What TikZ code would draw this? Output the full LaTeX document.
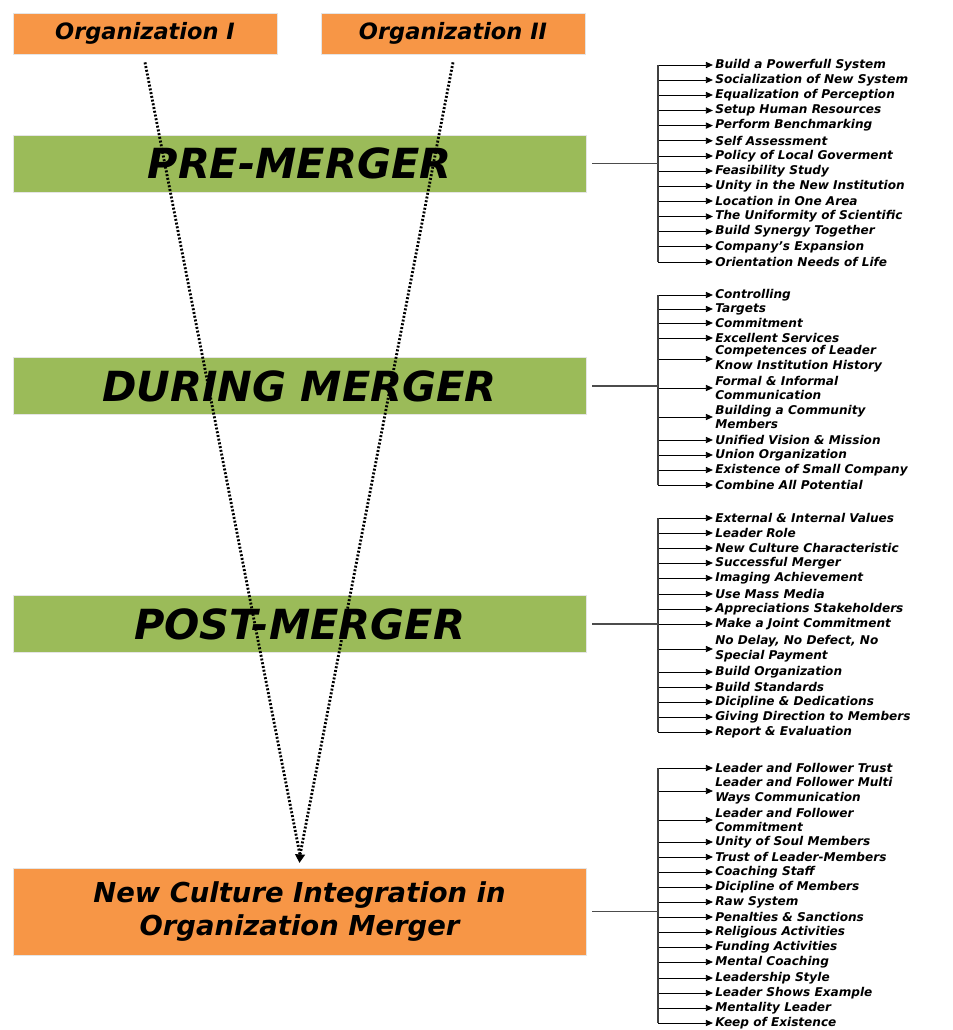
\documentclass[tikz,border=0pt]{standalone}
\usepackage{fontspec}
\setmainfont{DejaVu Sans}
\definecolor{orgorange}{HTML}{F79646}
\definecolor{phasegreen}{HTML}{9BBB59}
\usetikzlibrary{arrows.meta, positioning}

\begin{document}
\begin{tikzpicture}[
  x=0.025cm, y=-0.025cm,
  orgbox/.style={rectangle, fill=orgorange, draw=gray!20, line width=0.5pt,
    minimum width=6.6cm, minimum height=1.025cm, inner sep=0pt,
    font=\fontsize{16}{19}\selectfont\bfseries\itshape},
  phase/.style={rectangle, fill=phasegreen, draw=gray!20, line width=0.5pt,
    minimum width=14.325cm, minimum height=1.425cm, inner sep=0pt,
    font=\fontsize{29.5}{34}\selectfont\bfseries\itshape},
  result/.style={rectangle, fill=orgorange, draw=gray!20, line width=0.5pt,
    minimum width=14.325cm, minimum height=2.175cm, inner sep=0pt, align=center,
    font=\fontsize{19.5}{23.5}\selectfont\bfseries\itshape},
  item/.style={anchor=west, inner sep=0pt, align=left,
    font=\fontsize{8.6}{10.6}\selectfont\bfseries\itshape},
  itemarr/.style={-{Triangle[length=5pt, width=4.4pt]}, line width=0.6pt, shorten >=1.5pt},
  bar/.style={line width=0.9pt, color=black!75},
  link/.style={line width=0.9pt, color=black!70, shorten <=0.15cm},
  dots/.style={line width=2pt, dash pattern=on 1.4pt off 1.3pt}
]
  \useasboundingbox (0,0) rectangle (952,1030);

  % organizations and phases
  \node[orgbox] (org1) at (145,33.5) {Organization I};
  \node[orgbox] (org2) at (453,33.5) {Organization II};
  \node[phase] (pre) at (299.5,163.5) {PRE-MERGER};
  \node[phase] (during) at (299.5,386) {DURING MERGER};
  \node[phase] (post) at (299.5,624) {POST-MERGER};
  \node[result] (new) at (299.5,911.5)
    {New Culture Integration in\\Organization Merger};

  % merging paths
  \coordinate (meet) at (300,855);
  \draw[dots] ([yshift=-0.2cm]org1.south) -- (meet);
  \draw[dots] ([yshift=-0.2cm]org2.south) -- (meet);
  \draw[-{Triangle[length=6pt, width=7pt]}, line width=1pt] (meet) -- ([yshift=0.12cm]new.north);

  % pre-merger factors
  \coordinate (prebar) at (658,65);
  \foreach \y/\txt [count=\i] in {65/Build a Powerfull System,
      80/Socialization of New System, 95/Equalization of Perception,
      110.5/Setup Human Resources, 125.6/Perform Benchmarking,
      140.8/Self Assessment, 156/Policy of Local Goverment,
      171/Feasibility Study, 186/Unity in the New Institution,
      201/Location in One Area, 216.5/The Uniformity of Scientific,
      231.6/Build Synergy Together, 246.8/Company's Expansion,
      262/Orientation Needs of Life} {
    \node[item] (pre\i) at (715,\y) {\txt};
    \draw[itemarr] (pre\i.west -| prebar) -- (pre\i.west);
  }
  \draw[bar] (pre1.west -| prebar) -- (pre14.west -| prebar);
  \draw[link] (pre.east) -- (pre.east -| prebar);

  % during-merger factors
  \coordinate (durbar) at (658,295);
  \foreach \y/\txt [count=\i] in {295/Controlling, 309/Targets,
      323/Commitment, 338/Excellent Services,
      359/Competences of Leader\\Know Institution History,
      388/Formal \& Informal\\Communication,
      417/Building a Community\\Members,
      440/Unified Vision \& Mission, 455/Union Organization,
      470/Existence of Small Company, 485/Combine All Potential} {
    \node[item] (dur\i) at (715,\y) {\txt};
    \draw[itemarr] (dur\i.west -| durbar) -- (dur\i.west);
  }
  \draw[bar] (dur1.west -| durbar) -- (dur11.west -| durbar);
  \draw[link] (during.east) -- (during.east -| durbar);

  % post-merger factors
  \coordinate (postbar) at (658,518);
  \foreach \y/\txt [count=\i] in {518/External \& Internal Values,
      533/Leader Role, 548/New Culture Characteristic,
      563/Successful Merger, 578/Imaging Achievement,
      594/Use Mass Media, 609/Appreciations Stakeholders,
      624/Make a Joint Commitment,
      {649/No Delay, No Defect, No\\Special Payment},
      672/Build Organization, 687/Build Standards,
      702/Dicipline \& Dedications, 717/Giving Direction to Members,
      732/Report \& Evaluation} {
    \node[item] (post\i) at (715,\y) {\txt};
    \draw[itemarr] (post\i.west -| postbar) -- (post\i.west);
  }
  \draw[bar] (post1.west -| postbar) -- (post14.west -| postbar);
  \draw[link] (post.east) -- (post.east -| postbar);

  % integration factors
  \coordinate (newbar) at (658,768);
  \foreach \y/\txt [count=\i] in {768/Leader and Follower Trust,
      791/Leader and Follower Multi\\Ways Communication,
      820/Leader and Follower\\Commitment,
      842/Unity of Soul Members, 857/Trust of Leader-Members,
      872/Coaching Staff, 887/Dicipline of Members, 902/Raw System,
      917/Penalties \& Sanctions, 932/Religious Activities,
      947/Funding Activities, 962/Mental Coaching,
      978/Leadership Style, 993/Leader Shows Example,
      1008/Mentality Leader, 1023/Keep of Existence} {
    \node[item] (new\i) at (715,\y) {\txt};
    \draw[itemarr] (new\i.west -| newbar) -- (new\i.west);
  }
  \draw[bar] (new1.west -| newbar) -- (new16.west -| newbar);
  \draw[link] (new.east) -- (new.east -| newbar);
\end{tikzpicture}
\end{document}
